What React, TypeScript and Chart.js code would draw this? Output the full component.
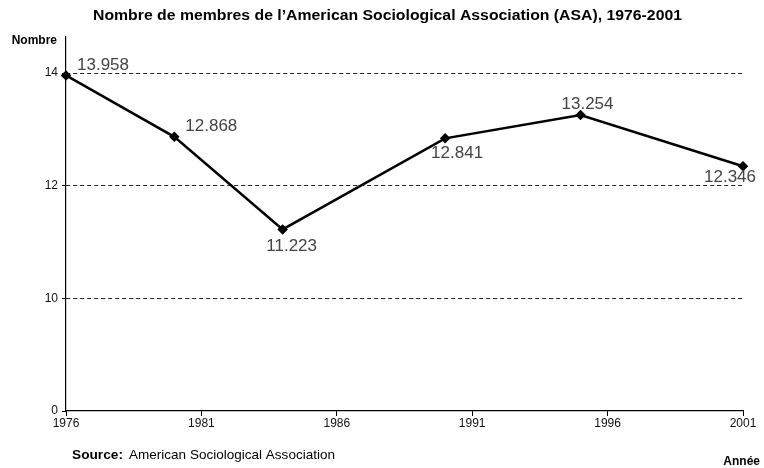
import React, { useEffect, useRef } from "react";
import { Chart, registerables } from "chart.js";

Chart.register(...registerables);

const years = [1976, 1980, 1984, 1990, 1995, 2001];
const members = [13.958, 12.868, 11.223, 12.841, 13.254, 12.346];
const memberLabels = ["13.958", "12.868", "11.223", "12.841", "13.254", "12.346"];
const xTickValues = [1976, 1981, 1986, 1991, 1996, 2001];
const yTickValues = [8, 10, 12, 14];
const yTickLabels = ["0", "10", "12", "14"];

const titleText = "Nombre de membres de l\u2019American Sociological Association (ASA), 1976-2001";
const FONT = "'Liberation Sans', Arial, sans-serif";

// label offsets relative to each point (centre of text)
const labelOffsets = [
  [37, -10],
  [37, -10],
  [9, 17],
  [12, 15],
  [7, -11],
  [-13, 11],
];

function fitText(ctx: any, text: string, x: number, y: number, width: number) {
  const w = ctx.measureText(text).width;
  const sx = width / w;
  ctx.save();
  ctx.translate(x, y);
  ctx.scale(sx, 1);
  ctx.textAlign = "left";
  ctx.fillText(text, 0, 0);
  ctx.restore();
}

const textPlugin = {
  id: "customTexts",
  afterDatasetsDraw(chart: any) {
    const ctx = chart.ctx;
    const meta = chart.getDatasetMeta(0);
    ctx.save();
    ctx.font = `17px ${FONT}`;
    ctx.fillStyle = "#444";
    ctx.textAlign = "center";
    ctx.textBaseline = "middle";
    meta.data.forEach((el: any, i: number) => {
      const [dx, dy] = labelOffsets[i];
      ctx.fillText(memberLabels[i], el.x + dx, el.y + dy);
    });
    ctx.restore();
  },
  afterDraw(chart: any) {
    const ctx = chart.ctx;
    const area = chart.chartArea;
    const W = chart.width;
    ctx.save();
    ctx.fillStyle = "#000";
    ctx.textBaseline = "middle";
    ctx.font = `bold 14px ${FONT}`;
    fitText(ctx, titleText, 93, 16, 589);
    ctx.textAlign = "right";
    ctx.font = `bold 12px ${FONT}`;
    ctx.fillText("Nombre", area.left - 9, area.top + 4);
    ctx.fillText("Ann\u00e9e", W - 4, 462);
    ctx.textAlign = "left";
    ctx.font = `bold 13px ${FONT}`;
    fitText(ctx, "Source:", 72, 455, 51);
    ctx.font = `13px ${FONT}`;
    fitText(ctx, "American Sociological Association", 129, 455, 206);
    ctx.restore();
  },
};

export default function App() {
  const ref = useRef<HTMLCanvasElement | null>(null);
  useEffect(() => {
    if (!ref.current) return;
    const chart = new Chart(ref.current, {
      type: "line",
      data: {
        datasets: [
          {
            data: years.map((y, i) => ({ x: y, y: members[i] })),
            borderColor: "#000",
            backgroundColor: "#000",
            borderWidth: 2.5,
            pointStyle: "rectRot",
            pointRadius: 3.5,
            pointBackgroundColor: "#000",
            pointBorderColor: "#000",
            tension: 0,
            clip: false as any,
          },
        ],
      },
      options: {
        animation: false,
        responsive: false,
        devicePixelRatio: 1,
        layout: { padding: { left: 0, right: 21, top: 37, bottom: 0 } },
        plugins: {
          legend: { display: false },
          title: { display: false },
          tooltip: { enabled: false },
        },
        scales: {
          x: {
            type: "linear",
            min: 1976,
            max: 2001,
            afterBuildTicks: (scale: any) => {
              scale.ticks = xTickValues.map((v) => ({ value: v }));
            },
            afterFit: (scale: any) => {
              scale.height = 57;
            },
            ticks: {
              color: "#111",
              font: { family: FONT, size: 12 },
              padding: 0,
              maxRotation: 0,
              autoSkip: false,
              callback: (v: any) => String(v),
            },
            grid: {
              drawOnChartArea: false,
              drawTicks: true,
              tickLength: 5,
              color: "#000",
              tickColor: "#000",
            },
            border: { display: true, color: "#000", width: 1.2 },
          },
          y: {
            type: "linear",
            min: 8,
            max: 14.64,
            afterBuildTicks: (scale: any) => {
              scale.ticks = yTickValues.map((v) => ({ value: v }));
            },
            afterFit: (scale: any) => {
              scale.width = 66;
            },
            ticks: {
              color: "#111",
              font: { family: FONT, size: 12 },
              padding: 4,
              callback: (v: any) => {
                const i = yTickValues.indexOf(Number(v));
                return i >= 0 ? yTickLabels[i] : "";
              },
            },
            grid: {
              color: (c: any) => (c.tick && c.tick.value === 8 ? "rgba(0,0,0,0)" : "#222"),
              tickColor: "#000",
              tickLength: 4,
              tickBorderDash: [],
              lineWidth: 1,
            },
            border: { display: true, color: "#000", width: 1.2, dash: [4, 3] },
          },
        },
      },
      plugins: [textPlugin],
    } as any);
    return () => chart.destroy();
  }, []);
  return (
    <div style={{ position: "absolute", left: 0, top: 0, width: 764, height: 468, background: "#fff" }}>
      <canvas ref={ref} width={764} height={468} style={{ display: "block" }} />
    </div>
  );
}
